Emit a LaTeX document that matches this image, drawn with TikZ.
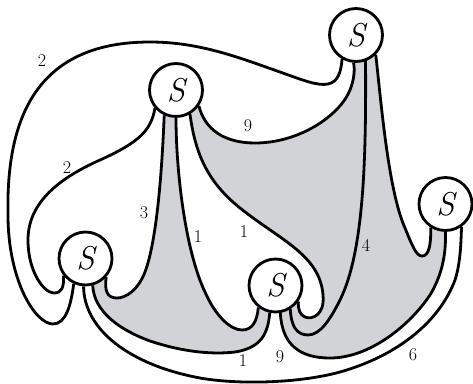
\documentclass[tikz,border=0pt]{standalone}
\usepackage{fontspec}
\usetikzlibrary{backgrounds}
\definecolor{shade}{RGB}{210,211,214}
\begin{document}
\begin{tikzpicture}[x=1pt,y=-1pt,
  blob/.style={circle,draw,line width=2.8pt,fill=white,minimum size=53pt,inner sep=0pt,font=\fontsize{33}{33}\selectfont\itshape},
  strand/.style={line width=2.8pt},
  lbl/.style={font=\fontsize{18}{18}\selectfont,inner sep=0pt},
  region/.style={fill=shade}]
\useasboundingbox (0,0) rectangle (473,383);
\node[blob] (A) at (176,90) {S};
\node[blob] (B) at (356,35) {S};
\node[blob] (C) at (445.5,204) {S};
\node[blob] (D) at (85.5,258.5) {S};
\node[blob] (E) at (275.5,285.5) {S};
\begin{pgfonlayer}{background}
% shaded regions
\fill[region] (A.245) .. controls (162,170) and (157,240) .. (145,272) .. controls (138,290) and (126,298) .. (117,298) .. controls (108,298) and (104,292) .. (D.318)
  -- (D.285) .. controls (94,312) and (120,330) .. (150,341) .. controls (180,351) and (210,355) .. (235,352) .. controls (260,348) and (268,335) .. (E.258)
  -- (E.232) .. controls (257,322) and (252,330) .. (242,330) .. controls (230,330) and (215,315) .. (205,292) .. controls (185,250) and (176,170) .. (A.270) -- cycle;
\fill[region] (A.300) .. controls (195,150) and (205,180) .. (240,208) .. controls (280,240) and (320,255) .. (323,295) .. controls (325,315) and (312,320) .. (305,317) .. controls (300,315) and (298,310) .. (E.325)
  -- (E.280) .. controls (282,345) and (300,358) .. (330,358) .. controls (370,358) and (410,325) .. (430,295) .. controls (442,275) and (446,255) .. (C.270)
  -- (C.238) .. controls (431,245) and (429,256) .. (422,256) .. controls (416,256) and (412,245) .. (405,228) .. controls (388,190) and (381,100) .. (B.315)
  -- (B.265) .. controls (355,70) and (354,80) .. (350,90) .. controls (340,115) and (300,143) .. (255,143) .. controls (225,143) and (205,130) .. (A.325) -- cycle;
% strands
\draw[strand] (D.245) .. controls (71,305) and (66,324) .. (53,324) .. controls (35,324) and (8,280) .. (8,215) .. controls (6,120) and (35,42) .. (150,42) .. controls (200,42) and (240,58) .. (280,72) .. controls (305,81) and (318,86) .. (328,84) .. controls (338,82) and (341,72) .. (B.240);
\draw[strand] (A.221) .. controls (151,130) and (140,142) .. (100,160) .. controls (55,180) and (28,205) .. (28,240) .. controls (28,272) and (44,293) .. (54,293) .. controls (62,293) and (64,287) .. (D.218);
\draw[strand] (A.245) .. controls (162,170) and (157,240) .. (145,272) .. controls (138,290) and (126,298) .. (117,298) .. controls (108,298) and (104,292) .. (D.318);
\draw[strand] (A.270) .. controls (176,170) and (185,250) .. (205,292) .. controls (215,315) and (230,330) .. (242,330) .. controls (252,330) and (257,322) .. (E.232);
\draw[strand] (D.285) .. controls (94,312) and (120,330) .. (150,341) .. controls (180,351) and (210,355) .. (235,352) .. controls (260,348) and (268,335) .. (E.258);
\draw[strand] (D.266) .. controls (84,330) and (130,365) .. (200,378) .. controls (240,385) and (300,383) .. (340,372) .. controls (400,355) and (440,320) .. (455,280) .. controls (460,265) and (461,245) .. (C.305);
\draw[strand] (E.280) .. controls (282,345) and (300,358) .. (330,358) .. controls (370,358) and (410,325) .. (430,295) .. controls (442,275) and (446,255) .. (C.270);
\draw[strand] (B.315) .. controls (381,100) and (388,190) .. (405,228) .. controls (412,245) and (416,256) .. (422,256) .. controls (429,256) and (431,245) .. (C.238);
\draw[strand] (B.290) .. controls (366,150) and (365,250) .. (340,300) .. controls (330,320) and (320,335) .. (308,335) .. controls (296,335) and (291,325) .. (E.302);
\draw[strand] (A.300) .. controls (195,150) and (205,180) .. (240,208) .. controls (280,240) and (320,255) .. (323,295) .. controls (325,315) and (312,320) .. (305,317) .. controls (300,315) and (298,310) .. (E.325);
\draw[strand] (A.325) .. controls (205,130) and (225,143) .. (255,143) .. controls (300,143) and (340,115) .. (350,90) .. controls (354,80) and (355,70) .. (B.265);
\end{pgfonlayer}
% labels
\node[lbl] (l1) at (42,61) {2};
\node[lbl] (l2) at (67,168) {2};
\node[lbl] (l3) at (248,126) {9};
\node[lbl] (l4) at (144,213) {3};
\node[lbl] (l5) at (198,237) {1};
\node[lbl] (l6) at (244,232) {1};
\node[lbl] (l7) at (366,245) {4};
\node[lbl] (l8) at (243,361) {1};
\node[lbl] (l9) at (280,357) {9};
\node[lbl] (l10) at (413,355) {6};
\end{tikzpicture}
\end{document}
